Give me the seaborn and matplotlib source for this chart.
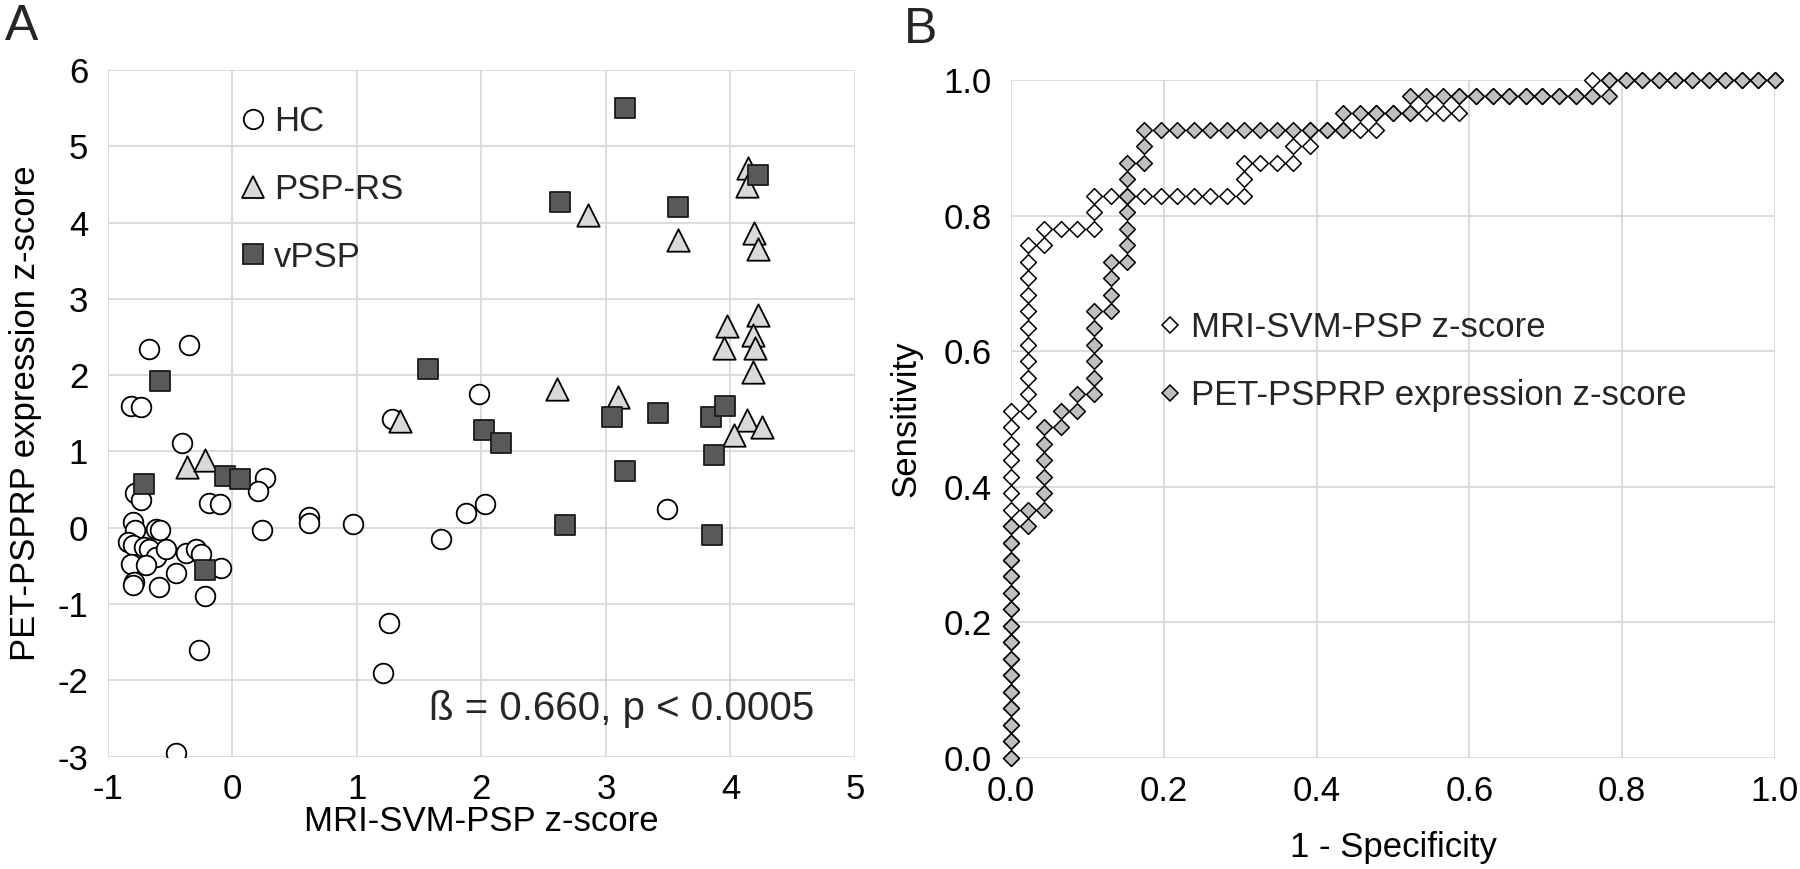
import matplotlib
matplotlib.use("Agg")
import matplotlib.pyplot as plt
from matplotlib.lines import Line2D
import pandas as pd
import seaborn as sns

# ---- panel A: MRI-SVM-PSP z-score (x) vs PET-PSPRP expression z-score (y)
hc_x = [-0.67, -0.35, -0.81, -0.73, -0.40, 0.26, 0.21, -0.78, -0.73, -0.19, -0.10, 0.24,
        0.62, 0.62, -0.80, -0.78, -0.61, -0.58, -0.84, -0.80, -0.71, -0.67, -0.61, -0.53,
        -0.81, -0.69, -0.45, -0.37, -0.29, -0.25, -0.09, -0.79, -0.80, -0.59, -0.22, -0.27,
        -0.45, 1.98, 1.28, 3.49, 2.03, 1.88, 1.68, 0.97, 1.26, 1.21]
hc_y = [2.34, 2.39, 1.59, 1.58, 1.11, 0.65, 0.48, 0.45, 0.37, 0.33, 0.31, -0.03,
        0.14, 0.06, 0.08, -0.03, -0.02, -0.03, -0.18, -0.23, -0.25, -0.28, -0.38, -0.28,
        -0.47, -0.49, -0.59, -0.33, -0.28, -0.35, -0.53, -0.71, -0.75, -0.77, -0.90, -1.60,
        -2.95, 1.75, 1.42, 0.25, 0.31, 0.19, -0.15, 0.05, -1.25, -1.91]

rs_x = [-0.36, -0.22, 1.35, 2.61, 3.10, 2.86, 3.58, 4.14, 4.13, 4.19, 4.22, 3.97, 3.95,
        4.22, 4.18, 4.20, 4.18, 4.13, 4.03, 4.25]
rs_y = [0.80, 0.89, 1.40, 1.82, 1.72, 4.10, 3.77, 4.72, 4.48, 3.87, 3.66, 2.64, 2.36,
        2.79, 2.53, 2.35, 2.04, 1.41, 1.22, 1.32]

vpsp_x = [3.15, 2.63, 3.58, 4.22, 1.57, -0.58, 2.02, 2.16, 3.05, 3.42, 3.84, 3.96, 3.87,
          3.15, 2.67, 3.85, -0.06, 0.06, -0.71, -0.22]
vpsp_y = [5.50, 4.27, 4.21, 4.62, 2.08, 1.92, 1.28, 1.11, 1.45, 1.50, 1.45, 1.60, 0.96,
          0.74, 0.03, -0.09, 0.68, 0.64, 0.57, -0.55]

# ---- panel B: ROC points as (false positives, true positives) counts
n_neg = 46
n_pos = 41
mri_steps = [(0, 0), (0, 1), (0, 2), (0, 3), (0, 4), (0, 5), (0, 6), (0, 7), (0, 8), (0, 9),
             (0, 10), (0, 11), (0, 12), (0, 13), (0, 14), (0, 15), (0, 16), (0, 17), (0, 18),
             (0, 19), (0, 20), (0, 21),
             (1, 21), (1, 22), (1, 23), (1, 24), (1, 25), (1, 26), (1, 27), (1, 28), (1, 29),
             (1, 30), (1, 31),
             (2, 31), (2, 32), (3, 32), (4, 32), (5, 32), (5, 33), (5, 34),
             (6, 34), (7, 34), (8, 34), (9, 34), (10, 34), (11, 34), (12, 34), (13, 34), (14, 34),
             (14, 35), (14, 36), (15, 36), (16, 36), (17, 36), (17, 37), (18, 37),
             (18, 38), (19, 38), (20, 38), (21, 38), (22, 38),
             (22, 39), (23, 39), (24, 39), (25, 39), (26, 39), (27, 39),
             (27, 40), (28, 40), (29, 40), (30, 40), (31, 40), (32, 40), (33, 40), (34, 40), (35, 40),
             (35, 41), (36, 41), (37, 41), (38, 41), (39, 41), (40, 41), (41, 41), (42, 41),
             (43, 41), (44, 41), (45, 41), (46, 41)]
pet_steps = [(0, 0), (0, 1), (0, 2), (0, 3), (0, 4), (0, 5), (0, 6), (0, 7), (0, 8), (0, 9),
             (0, 10), (0, 11), (0, 12), (0, 13), (0, 14),
             (1, 14), (1, 15), (2, 15), (2, 16), (2, 17), (2, 18), (2, 19), (2, 20),
             (3, 20), (3, 21), (4, 21), (4, 22),
             (5, 22), (5, 23), (5, 24), (5, 25), (5, 26), (5, 27),
             (6, 27), (6, 28), (6, 29), (6, 30),
             (7, 30), (7, 31), (7, 32), (7, 33), (7, 34), (7, 35), (7, 36),
             (8, 36), (8, 37), (8, 38),
             (9, 38), (10, 38), (11, 38), (12, 38), (13, 38), (14, 38), (15, 38), (16, 38),
             (17, 38), (18, 38), (19, 38), (20, 38),
             (20, 39), (21, 39), (22, 39), (23, 39), (24, 39),
             (24, 40), (25, 40), (26, 40), (27, 40), (28, 40), (29, 40), (30, 40), (31, 40),
             (32, 40), (33, 40), (34, 40), (35, 40), (36, 40),
             (36, 41), (37, 41), (38, 41), (39, 41), (40, 41), (41, 41), (42, 41), (43, 41),
             (44, 41), (45, 41), (46, 41)]

group_labels = ['HC', 'PSP-RS', 'vPSP']
roc_labels = ['MRI-SVM-PSP z-score', 'PET-PSPRP expression z-score']

sns.set_theme(style="whitegrid")
plt.rcParams['font.family'] = ['Liberation Sans', 'DejaVu Sans']
plt.rcParams['font.size'] = 25
plt.rcParams['axes.unicode_minus'] = False
grid_kw = dict(color='#d9d9d9', linewidth=1.3)

fig = plt.figure(figsize=(18, 8.69), dpi=100)
axA = fig.add_axes([0.0598, 0.1293, 0.4152, 0.7901])
axB = fig.add_axes([0.5617, 0.1277, 0.4244, 0.7803])

# ---- panel A
sns.scatterplot(x=hc_x, y=hc_y, ax=axA, marker='o', s=200, color='white',
                edgecolor='black', linewidth=1.3, zorder=3)
sns.scatterplot(x=rs_x, y=rs_y, ax=axA, marker='^', s=260, color='#d9d9d9',
                edgecolor='black', linewidth=1.3, zorder=4)
sns.scatterplot(x=vpsp_x, y=vpsp_y, ax=axA, marker='s', s=205, color='#595959',
                edgecolor='#1a1a1a', linewidth=1.3, zorder=5)
axA.set_xlim(-1, 5)
axA.set_ylim(-3, 6)
axA.set_xticks(range(-1, 6))
axA.set_yticks(range(-3, 7))
axA.set_xlabel('MRI-SVM-PSP z-score', fontsize=25)
axA.set_ylabel('PET-PSPRP expression z-score', fontsize=25)
axA.xaxis.set_label_coords(0.5, -0.07)
axA.yaxis.set_label_coords(-0.088, 0.5)
axA.text(0.945, 0.069, 'ß = 0.660, p < 0.0005', transform=axA.transAxes,
         ha='right', va='center', fontsize=29)
handlesA = [
    Line2D([], [], ls='none', marker='o', markersize=14, markerfacecolor='white',
           markeredgecolor='black', markeredgewidth=1.3),
    Line2D([], [], ls='none', marker='^', markersize=16, markerfacecolor='#d9d9d9',
           markeredgecolor='black', markeredgewidth=1.3),
    Line2D([], [], ls='none', marker='s', markersize=14, markerfacecolor='#595959',
           markeredgecolor='#1a1a1a', markeredgewidth=1.3),
]
axA.legend(handlesA, group_labels, loc='upper left', bbox_to_anchor=(0.176, 0.949),
           frameon=False, fontsize=25, handlelength=0.8, handletextpad=0.2,
           labelspacing=1.0, borderpad=0, borderaxespad=0)

# ---- panel B
mri_df = pd.DataFrame(mri_steps, columns=['fp', 'tp'])
pet_df = pd.DataFrame(pet_steps, columns=['fp', 'tp'])
sns.scatterplot(x=mri_df['fp'] / n_neg, y=mri_df['tp'] / n_pos, ax=axB, marker='D', s=64,
                color='white', edgecolor='black', linewidth=1.1, zorder=3, clip_on=False)
sns.scatterplot(x=pet_df['fp'] / n_neg, y=pet_df['tp'] / n_pos, ax=axB, marker='D', s=64,
                color='#bfbfbf', edgecolor='black', linewidth=1.1, zorder=4, clip_on=False)
axB.set_xlim(0, 1)
axB.set_ylim(0, 1)
ticksB = [0.0, 0.2, 0.4, 0.6, 0.8, 1.0]
axB.set_xticks(ticksB)
axB.set_yticks(ticksB)
axB.set_xticklabels([f'{t:.1f}' for t in ticksB])
axB.set_yticklabels([f'{t:.1f}' for t in ticksB])
axB.set_xlabel('1 - Specificity', fontsize=25)
axB.set_ylabel('Sensitivity', fontsize=25)
axB.xaxis.set_label_coords(0.5, -0.108)
axB.yaxis.set_label_coords(-0.116, 0.5)
handlesB = [
    Line2D([], [], ls='none', marker='D', markersize=8, markerfacecolor='white',
           markeredgecolor='black', markeredgewidth=1.1),
    Line2D([], [], ls='none', marker='D', markersize=8, markerfacecolor='#bfbfbf',
           markeredgecolor='black', markeredgewidth=1.1),
]
axB.legend(handlesB, roc_labels, loc='upper left', bbox_to_anchor=(0.19, 0.659),
           frameon=False, fontsize=25, handlelength=0.8, handletextpad=0.2,
           labelspacing=1.0, borderpad=0, borderaxespad=0)

for ax in (axA, axB):
    ax.grid(True, **grid_kw)
    ax.set_axisbelow(True)
    for sp in ax.spines.values():
        sp.set_visible(False)
    ax.tick_params(axis='both', length=0, labelsize=25, labelcolor='black')
    ax.tick_params(axis='x', pad=12)
    ax.tick_params(axis='y', pad=14)
    ax.xaxis.label.set_color('black')
    ax.yaxis.label.set_color('black')

fig.text(0.003, 0.995, 'A', fontsize=36, va='top', ha='left')
fig.text(0.502, 0.992, 'B', fontsize=36, va='top', ha='left')

fig.savefig('out.png', dpi=100, facecolor='white')
